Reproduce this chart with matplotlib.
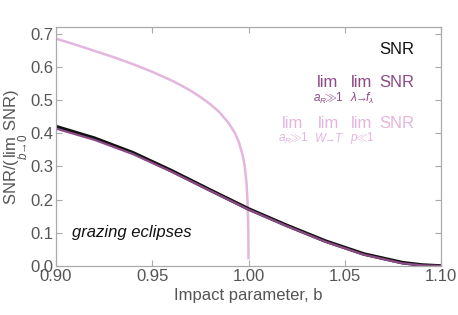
import matplotlib
matplotlib.use("Agg")
import matplotlib.pyplot as plt
import numpy as np

plt.rcParams['font.family'] = ['Liberation Sans', 'DejaVu Sans']
plt.rcParams['mathtext.fontset'] = 'custom'
plt.rcParams['mathtext.rm'] = 'Liberation Sans'
plt.rcParams['mathtext.it'] = 'Liberation Sans:italic'
plt.rcParams['mathtext.sf'] = 'Liberation Sans'

# data
b_full = [0.90, 0.92, 0.94, 0.96, 0.98, 1.00, 1.02, 1.04, 1.06, 1.08, 1.09, 1.10]
snr_exact = [0.420, 0.385, 0.341, 0.287, 0.229, 0.172, 0.122, 0.075, 0.036, 0.010, 0.003, 0.0]
snr_lim2 = [0.414, 0.380, 0.337, 0.284, 0.227, 0.170, 0.120, 0.073, 0.034, 0.008, 0.002, 0.0]

b_pink = [0.90, 0.91, 0.92, 0.93, 0.94, 0.95, 0.96, 0.965, 0.97, 0.975, 0.98, 0.985,
          0.99, 0.993, 0.995, 0.997, 0.998, 0.999, 0.9995, 0.9999, 1.0]
snr_lim3 = [0.685, 0.667, 0.648, 0.629, 0.608, 0.585, 0.559, 0.544, 0.528, 0.509, 0.488, 0.463,
            0.428, 0.400, 0.373, 0.333, 0.302, 0.248, 0.192, 0.110, 0.02]

xticks = [0.90, 0.95, 1.00, 1.05, 1.10]
yticks = [0.0, 0.1, 0.2, 0.3, 0.4, 0.5, 0.6, 0.7]

BLACK = '#111111'
PURPLE = '#8c4a86'
PINK = '#e4b6dd'
GRAY = '#555555'

W, H = 458, 315
fig = plt.figure(figsize=(W / 100, H / 100), dpi=100)
ax = fig.add_axes([56 / W, 1 - 266 / H, (441 - 56) / W, (266 - 27) / H])

ax.plot(b_pink, snr_lim3, color=PINK, lw=1.8, solid_capstyle='butt')
ax.plot(b_full, snr_exact, color=BLACK, lw=2.6)
ax.plot(b_full, snr_lim2, color=PURPLE, lw=1.6)

ax.set_xlim(0.90, 1.10)
ax.set_ylim(0.0, 0.72)
ax.set_xticks(xticks)
ax.set_xticklabels([f'{t:.2f}' for t in xticks])
ax.set_yticks(yticks)
ax.set_yticklabels([f'{t:.1f}' for t in yticks])
ax.tick_params(direction='in', length=4, width=0.8, color='#aaaaaa',
               labelsize=12, labelcolor=GRAY, top=True, right=True, pad=2)
for s in ax.spines.values():
    s.set_color('#aaaaaa')
    s.set_linewidth(0.9)

ax.set_xlabel('Impact parameter, b', fontsize=12, color=GRAY, labelpad=3)
ax.set_ylabel(r'SNR/($\lim_{b\to0}$ SNR)', fontsize=12, color=GRAY, labelpad=0)


def px(x, y):
    return x / W, 1 - y / H


def put(x, y, s, color, size=12, style='normal', ha='left'):
    fx, fy = px(x, y)
    fig.text(fx, fy, s, color=color, fontsize=size, style=style, ha=ha, va='center')


put(72, 232, 'grazing eclipses', BLACK, size=12, style='italic')

put(414, 50, 'SNR', BLACK, ha='right')

SUB = 8.5
put(414, 83, 'SNR', PURPLE, ha='right')
put(328, 83, 'lim', PURPLE, ha='center')
put(362, 83, 'lim', PURPLE, ha='center')
put(328, 98, r'$a_R\!\!\gg\!\!1$', PURPLE, size=SUB, ha='center')
put(362, 98, r'$\lambda\!\!\to\!\! f_\lambda$', PURPLE, size=SUB, ha='center')

put(414, 124, 'SNR', PINK, ha='right')
put(293, 124, 'lim', PINK, ha='center')
put(329, 124, 'lim', PINK, ha='center')
put(362, 124, 'lim', PINK, ha='center')
put(293, 138, r'$a_R\!\!\gg\!\!1$', PINK, size=SUB, ha='center')
put(329, 138, r'$W\!\!\to\!\! T$', PINK, size=SUB, ha='center')
put(362, 138, r'$p\!\!\ll\!\!1$', PINK, size=SUB, ha='center')

fig.savefig('out.png', dpi=100)
